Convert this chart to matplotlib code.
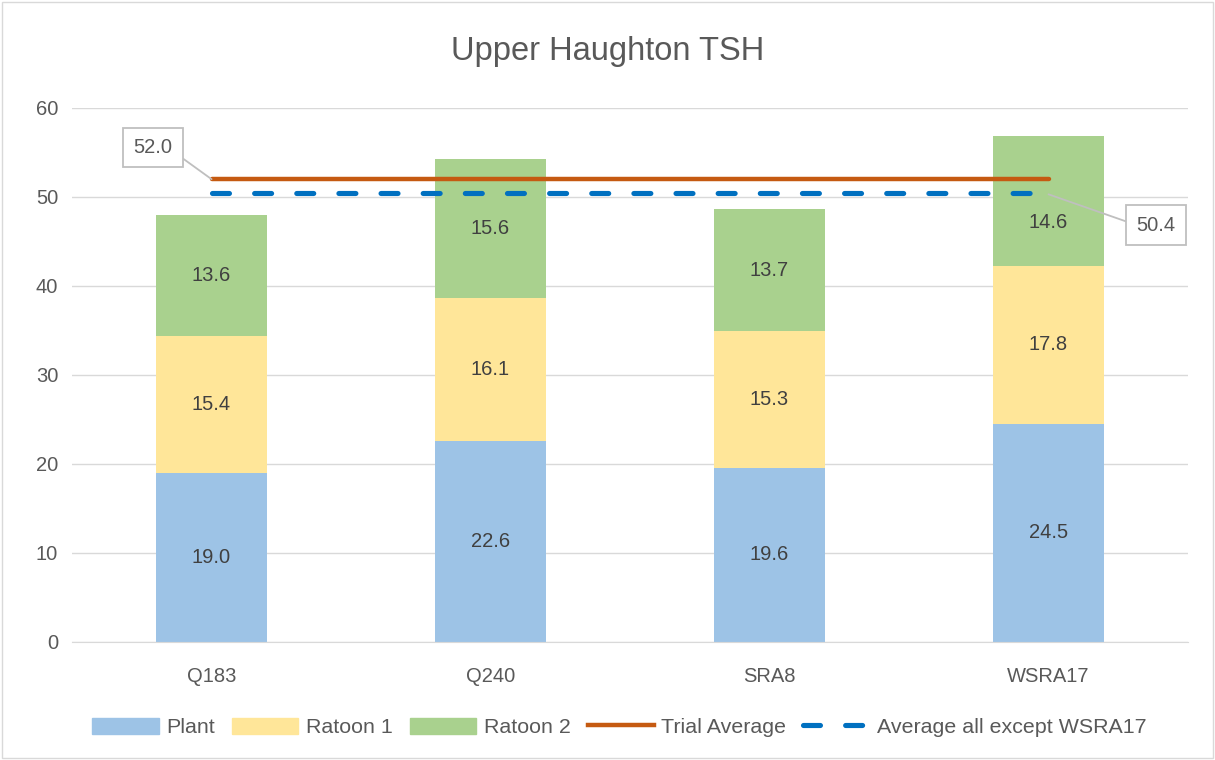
import matplotlib

matplotlib.use("Agg")
import matplotlib.pyplot as plt
import numpy as np
from matplotlib.lines import Line2D
from matplotlib.patches import Patch, Rectangle

plt.rcParams["font.family"] = ["Liberation Sans", "DejaVu Sans"]

# Данные
varieties = ["Q183", "Q240", "SRA8", "WSRA17"]
plant = [19.0, 22.6, 19.6, 24.5]
ratoon1 = [15.4, 16.1, 15.3, 17.8]
ratoon2 = [13.6, 15.6, 13.7, 14.6]
trial_avg = 52.0
avg_except = 50.4

# Палитра
COL_PLANT = "#9DC3E6"
COL_R1 = "#FFE699"
COL_R2 = "#A9D18E"
COL_TRIAL = "#C55A11"
COL_EXCEPT = "#0070C0"
COL_TEXT = "#595959"
COL_GRID = "#D9D9D9"
COL_CALLOUT = "#BFBFBF"

fig = plt.figure(figsize=(12.15, 7.6), dpi=100)
ax = fig.add_axes([0.0593, 0.1553, 0.9185, 0.7026])

x = np.arange(len(varieties))
w = 0.4
plant = np.array(plant)
ratoon1 = np.array(ratoon1)
ratoon2 = np.array(ratoon2)

ax.bar(x, plant, w, color=COL_PLANT, zorder=2)
ax.bar(x, ratoon1, w, bottom=plant, color=COL_R1, zorder=2)
ax.bar(x, ratoon2, w, bottom=plant + ratoon1, color=COL_R2, zorder=2)

# подписи сегментов (центр сегмента)
y_plant = plant / 2
y_r1 = plant + ratoon1 / 2
y_r2 = plant + ratoon1 + ratoon2 / 2
# у WSRA17 подпись сдвинута вниз, чтобы не лезть под линии средних
y_r2[-1] -= 2.5
for i in range(len(x)):
    for yy, val in [(y_plant[i], plant[i]), (y_r1[i], ratoon1[i]),
                    (y_r2[i], ratoon2[i])]:
        ax.text(x[i], yy, f"{val:.1f}", ha="center", va="center",
                fontsize=14.5, color="#404040", zorder=4)

# средние линии
ax.plot([x[0], x[-1]], [trial_avg, trial_avg], color=COL_TRIAL, lw=3.2,
        solid_capstyle="round", zorder=3)
ax.plot([x[0], x[-1]], [avg_except, avg_except], color=COL_EXCEPT, lw=3.7,
        dashes=(3.3, 4.9), dash_capstyle="round", zorder=3)

box = dict(boxstyle="square,pad=0.5", fc="white", ec=COL_CALLOUT, lw=1.3)
ax.annotate(f"{trial_avg:.1f}", xy=(x[0], trial_avg), xytext=(-0.21, 55.6),
            ha="center", va="center", fontsize=14.5, color=COL_TEXT, bbox=box,
            arrowprops=dict(arrowstyle="-", color=COL_CALLOUT, lw=1.3,
                            shrinkA=0, shrinkB=0, relpos=(1, 0.3)), zorder=5)
ax.annotate(f"{avg_except:.1f}", xy=(x[-1], avg_except - 0.1),
            xytext=(3.385, 46.85), ha="center", va="center", fontsize=14.5,
            color=COL_TEXT, bbox=box,
            arrowprops=dict(arrowstyle="-", color=COL_CALLOUT, lw=1.3,
                            shrinkA=0, shrinkB=0, relpos=(0, 0.5)), zorder=5)

ax.set_xlim(-0.5, 3.5)
ax.set_ylim(0, 60)
ax.set_yticks(np.arange(0, 61, 10))
ax.set_xticks(x)
ax.set_xticklabels(varieties)
ax.tick_params(length=0, labelsize=14.5, labelcolor=COL_TEXT)
ax.tick_params(axis="y", pad=10)
ax.tick_params(axis="x", pad=18)
ax.grid(axis="y", color=COL_GRID, lw=1, zorder=0)
ax.set_axisbelow(True)
for side in ["top", "right", "left"]:
    ax.spines[side].set_visible(False)
ax.spines["bottom"].set_color(COL_GRID)

fig.text(0.5, 0.932, "Upper Haughton TSH", ha="center", va="center",
         fontsize=23.5, color=COL_TEXT)

handles = [
    Patch(color=COL_PLANT, label="Plant"),
    Patch(color=COL_R1, label="Ratoon 1"),
    Patch(color=COL_R2, label="Ratoon 2"),
    Line2D([], [], color=COL_TRIAL, lw=3.2, label="Trial Average"),
    Line2D([], [], color=COL_EXCEPT, lw=3.7, dashes=(3.3, 4.9),
           dash_capstyle="round", label="Average all except WSRA17"),
]
leg = fig.legend(handles=handles, loc="center", bbox_to_anchor=(0.51, 0.043),
                 ncol=5, frameon=False, fontsize=15.4, handlelength=3.1,
                 handleheight=0.8, columnspacing=0.8, handletextpad=0.35)
for t in leg.get_texts():
    t.set_color(COL_TEXT)

fig.patches.append(Rectangle((0.002, 0.002), 0.996, 0.996,
                             transform=fig.transFigure, fill=False,
                             ec=COL_GRID, lw=1))

fig.savefig("out.png", dpi=100)
